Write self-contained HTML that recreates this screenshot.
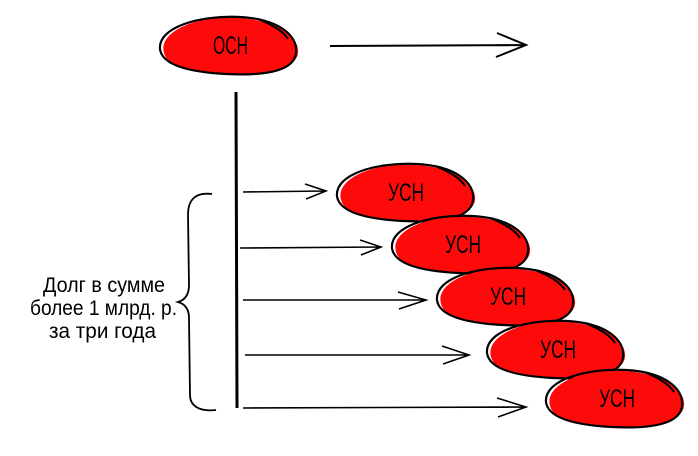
<!DOCTYPE html>
<html><head><meta charset="utf-8"><style>
html,body{margin:0;padding:0;background:#fff;width:698px;height:456px;overflow:hidden}
svg{display:block}
text{font-family:"Liberation Sans",sans-serif}
</style></head><body>
<svg width="698" height="456" viewBox="0 0 698 456" xmlns="http://www.w3.org/2000/svg">
<defs>
<g id="egg">
  <path d="M-64,8 C-70,-14 -30,-30 10,-27 C50,-25 72,-8 70,8 C68,24 40,30 0,29 C-40,28 -60,22 -64,8 Z" fill="#ff0a0a"/>
  <path d="M-68,4 C-70,-18 -28,-30 12,-28 C50,-26 70,-10 68,8 C66,26 38,31 -2,29 C-40,27 -66,20 -68,4 Z" fill="none" stroke="#000" stroke-width="2.2"/>
  <path d="M30,-26 C45,-20 55,-14 60,-6" fill="none" stroke="#000" stroke-width="2"/>
</g>
</defs>
<g transform="translate(228,45)"><use href="#egg"/><text x="-15" y="9" font-size="25" textLength="35" lengthAdjust="spacingAndGlyphs">ОСН</text></g>
<path d="M330,46 L525,45 M497,33 L526,45 L496,57" fill="none" stroke="#000" stroke-width="2"/>
<path d="M236,92 L237,408" stroke="#000" stroke-width="3" fill="none"/>
<g fill="none" stroke="#000" stroke-width="1.6">
<path d="M243,192 L325,191 M305,184 L326,191 L306,199"/>
<path d="M240,248 L380,247 M360,240 L381,247 L361,255"/>
<path d="M243,300 L425,300 M398,292 L426,300 L399,309"/>
<path d="M245,355 L468,355 M442,346 L469,355 L443,364"/>
<path d="M243,408 L525,407 M497,398 L526,407 L498,417"/>
<path d="M212,194 C195,192 188,200 188,215 L189,285 C189,295 185,300 178,302 C185,304 189,309 189,318 L190,395 C190,405 198,412 216,410" stroke-width="1.8"/>
</g>
<g transform="translate(405,192)"><use href="#egg"/><text x="-17" y="9" font-size="25" textLength="36" lengthAdjust="spacingAndGlyphs">УСН</text></g>
<g transform="translate(460,244)"><use href="#egg"/><text x="-15" y="9" font-size="25" textLength="36" lengthAdjust="spacingAndGlyphs">УСН</text></g>
<g transform="translate(505,296)"><use href="#egg"/><text x="-15" y="9" font-size="25" textLength="36" lengthAdjust="spacingAndGlyphs">УСН</text></g>
<g transform="translate(555,349)"><use href="#egg"/><text x="-15" y="9" font-size="25" textLength="36" lengthAdjust="spacingAndGlyphs">УСН</text></g>
<g transform="translate(614,398)"><use href="#egg"/><text x="-15" y="9" font-size="25" textLength="36" lengthAdjust="spacingAndGlyphs">УСН</text></g>
<g font-size="21" fill="#000">
<text x="43" y="292" textLength="122" lengthAdjust="spacingAndGlyphs">Долг в сумме</text>
<text x="30" y="315" textLength="147" lengthAdjust="spacingAndGlyphs">более 1 млрд. р.</text>
<text x="49" y="338" textLength="107" lengthAdjust="spacingAndGlyphs">за три года</text>
</g>
</svg>
</body></html>
